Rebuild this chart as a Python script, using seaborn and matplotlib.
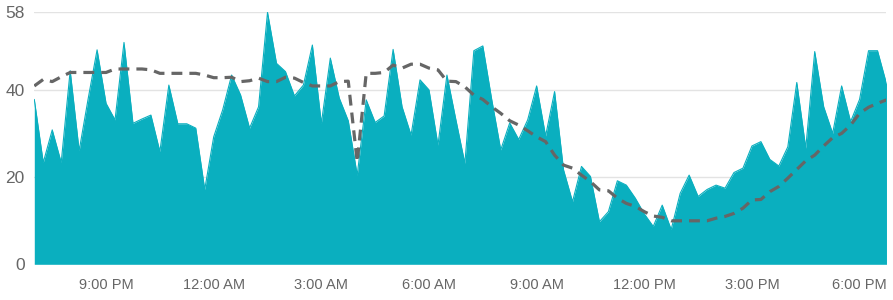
import matplotlib
matplotlib.use("Agg")
import matplotlib.pyplot as plt
import matplotlib.dates as mdates
import seaborn as sns
import pandas as pd
import numpy as np

# ---- data (15-minute samples, 7:00 PM -> 6:45 PM) ----
start_time = "2024-01-01 19:00"
n_points = 96
actual = [
    37.9, 23.4, 30.9, 23.4, 44.5, 26.1, 38.0, 49.3, 37.0, 33.2,
    51.0, 32.4, 33.4, 34.3, 25.9, 41.2, 32.3, 32.3, 31.3, 17.2,
    29.3, 35.5, 43.5, 38.9, 31.3, 36.2, 57.9, 46.2, 44.3, 38.7,
    41.2, 50.4, 32.4, 47.4, 38.2, 33.0, 20.5, 37.8, 32.6, 34.1,
    49.4, 36.2, 29.7, 42.4, 40.1, 27.4, 43.5, 33.2, 23.2, 49.1,
    50.2, 37.8, 26.3, 32.5, 28.7, 33.2, 41.0, 29.5, 39.7, 21.7,
    14.4, 22.5, 20.2, 9.8, 12.1, 19.2, 18.2, 15.2, 11.6, 8.7,
    13.6, 8.0, 16.3, 20.5, 15.6, 17.2, 18.2, 17.5, 21.1, 22.1,
    27.2, 28.2, 24.1, 22.6, 27.0, 41.8, 26.7, 48.9, 36.2, 30.1,
    41.0, 32.8, 37.9, 49.1, 49.1, 41.5,
]
trend = [
    41.0, 42.5, 42.0, 43.1, 44.1, 44.1, 44.1, 44.1, 44.1, 44.9,
    44.9, 44.9, 44.9, 44.7, 43.9, 43.9, 43.9, 43.9, 43.9, 43.5,
    42.9, 42.9, 43.0, 42.0, 42.2, 42.8, 42.0, 42.0, 43.0, 42.8,
    41.8, 41.0, 41.0, 41.0, 42.0, 42.1, 23.5, 43.9, 43.9, 44.1,
    45.8, 45.1, 46.0, 46.0, 45.1, 44.7, 42.1, 42.0, 40.8, 38.9,
    37.9, 36.2, 34.7, 33.0, 32.0, 30.7, 29.3, 28.2, 25.1, 22.8,
    22.1, 20.5, 19.0, 17.1, 16.9, 15.2, 14.0, 13.3, 12.1, 11.1,
    10.8, 10.0, 10.0, 10.0, 10.0, 10.0, 10.6, 11.0, 11.7, 12.9,
    14.8, 14.9, 16.7, 17.9, 19.8, 21.8, 23.8, 25.1, 27.2, 29.1,
    30.1, 32.0, 34.7, 36.1, 37.0, 37.8,
]
y_ticks = [0, 20, 40, 58]

times = pd.date_range(start_time, periods=n_points, freq="15min")
df = pd.DataFrame({"time": times, "actual": actual, "trend": trend})

sns.set_theme(style="white")
plt.rcParams["font.family"] = ["Liberation Sans", "DejaVu Sans"]

fig = plt.figure(figsize=(8.93, 3.0), dpi=100)
ax = fig.add_axes([0.0384, 0.119, 0.9543, 0.841])

teal = "#0AAFBF"
ax.fill_between(df["time"], 0, df["actual"], color=teal, linewidth=0, zorder=2)
sns.lineplot(data=df, x="time", y="actual", ax=ax, color=teal, linewidth=0.8, zorder=3)
sns.lineplot(data=df, x="time", y="trend", ax=ax, color="#666666", linewidth=2.3,
             zorder=4)
ax.lines[-1].set_dashes([3.4, 2.2])

ax.set_xlim(df["time"].iloc[0], df["time"].iloc[-1])
ax.set_ylim(0, 58)
ax.set_yticks(y_ticks)
ax.set_yticklabels([str(v) for v in y_ticks])

ax.xaxis.set_major_locator(mdates.HourLocator(byhour=[0, 3, 6, 9, 12, 15, 18, 21]))

def fmt(x, pos=None):
    d = mdates.num2date(x)
    h = d.hour % 12
    if h == 0:
        h = 12
    return f"{h}:{d.minute:02d} {'AM' if d.hour < 12 else 'PM'}"

ax.xaxis.set_major_formatter(plt.FuncFormatter(fmt))

ax.grid(axis="y", color="#E3E3E3", linewidth=1.0, zorder=0)
ax.grid(axis="x", visible=False)
ax.set_axisbelow(True)
for s in ax.spines.values():
    s.set_visible(False)
ax.set_xlabel("")
ax.set_ylabel("")
ax.tick_params(axis="both", length=0, colors="#666666")
ax.tick_params(axis="x", pad=10, labelsize=10.5)
ax.tick_params(axis="y", pad=7, labelsize=12.5)

fig.savefig("out.png", dpi=100)
